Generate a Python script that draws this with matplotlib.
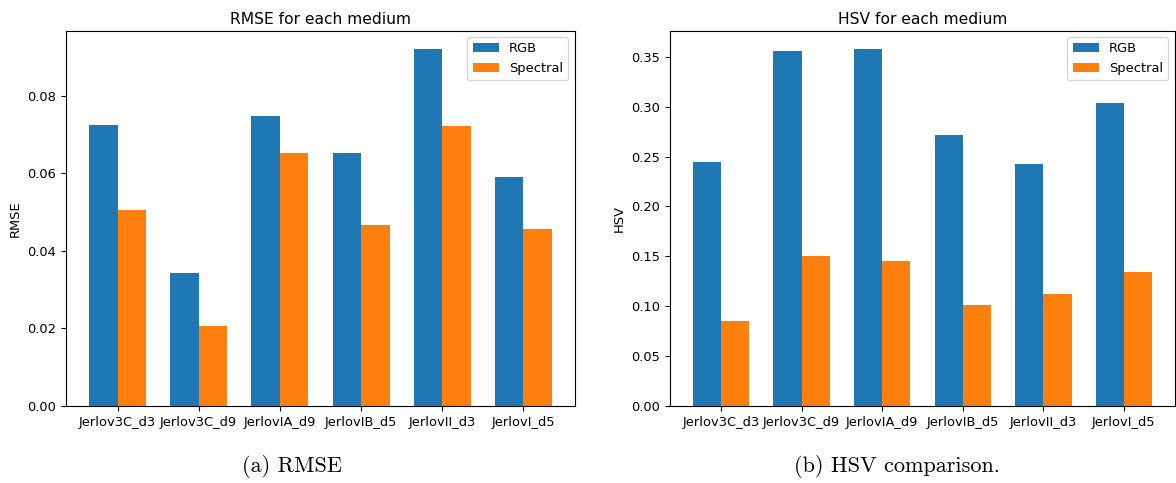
import matplotlib
matplotlib.use("Agg")
import matplotlib.pyplot as plt
import numpy as np

categories = ["Jerlov3C_d3", "Jerlov3C_d9", "JerlovIA_d9", "JerlovIB_d5", "JerlovII_d3", "JerlovI_d5"]
rmse_rgb = [0.0724, 0.0343, 0.0747, 0.0652, 0.0922, 0.0592]
rmse_spectral = [0.0505, 0.0207, 0.0652, 0.0466, 0.0721, 0.0456]
hsv_rgb = [0.2443, 0.3563, 0.3583, 0.2713, 0.2423, 0.3033]
hsv_spectral = [0.0853, 0.1503, 0.1453, 0.1013, 0.1123, 0.1343]
series_names = ["RGB", "Spectral"]
titles = ["RMSE for each medium", "HSV for each medium"]
ylabels = ["RMSE", "HSV"]
captions = ["(a) RMSE", "(b) HSV comparison."]

W, H = 1176, 483
fig = plt.figure(figsize=(W / 100, H / 100), dpi=100)

def box(x0, x1, y0, y1):
    return [x0 / W, 1 - y1 / H, (x1 - x0) / W, (y1 - y0) / H]

axes = [fig.add_axes(box(66, 575, 30.7, 406)), fig.add_axes(box(670, 1175, 30.7, 406))]
data = [(rmse_rgb, rmse_spectral), (hsv_rgb, hsv_spectral)]
x = np.arange(len(categories))
w = 0.35
fs = 9.4
for ax, (a, b), t, yl in zip(axes, data, titles, ylabels):
    ax.bar(x - w / 2, a, w, label=series_names[0], color="#1f77b4")
    ax.bar(x + w / 2, b, w, label=series_names[1], color="#ff7f0e")
    ax.set_xticks(x)
    ax.set_xticklabels(categories, fontsize=fs)
    ax.tick_params(axis="y", labelsize=fs)
    ax.set_title(t, fontsize=11.2, pad=5)
    ax.set_ylabel(yl, fontsize=fs)
    ax.legend(loc="upper right", fontsize=fs)

fig.text(292 / W, 1 - 467 / H, captions[0], ha="center", va="center", fontsize=16, family="cmr10")
fig.text(897 / W, 1 - 467 / H, captions[1], ha="center", va="center", fontsize=16, family="cmr10")

fig.savefig("out.png", dpi=100)
